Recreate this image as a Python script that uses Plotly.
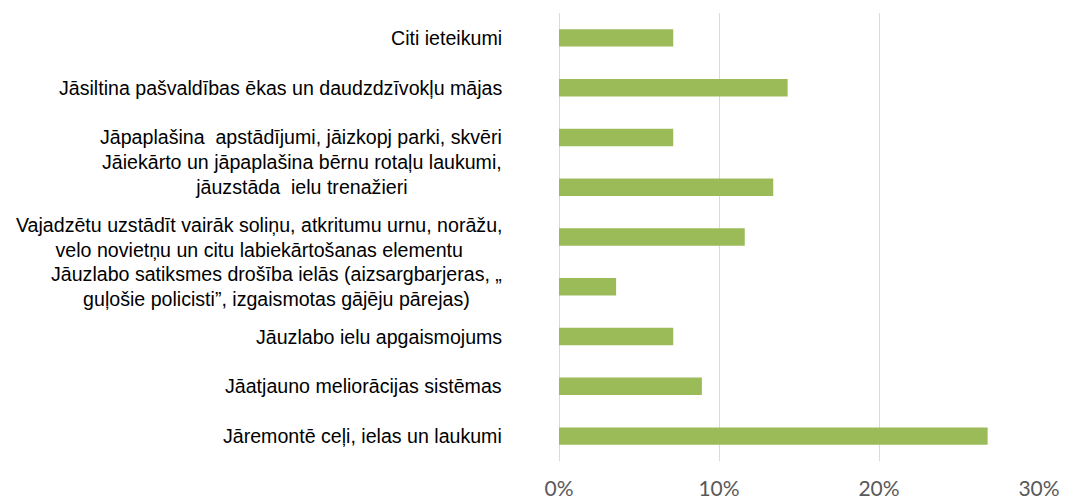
import plotly.graph_objects as go

categories = [
    "Jāremontē ceļi, ielas un laukumi",
    "Jāatjauno meliorācijas sistēmas",
    "Jāuzlabo ielu apgaismojums",
    "Jāuzlabo satiksmes drošība ielās (aizsargbarjeras, „<br>guļošie policisti”, izgaismotas gājēju pārejas)",
    "Vajadzētu uzstādīt vairāk soliņu, atkritumu urnu, norāžu,<br>velo novietņu un citu labiekārtošanas elementu",
    "Jāiekārto un jāpaplašina bērnu rotaļu laukumi,<br>jāuzstāda  ielu trenažieri<br> ",
    "Jāpaplašina  apstādījumi, jāizkopj parki, skvēri",
    "Jāsiltina pašvaldības ēkas un daudzdzīvokļu mājas",
    "Citi ieteikumi",
]
values = [26.79, 8.93, 7.14, 3.57, 11.61, 13.39, 7.14, 14.29, 7.14]
tick_vals = [0, 10, 20, 30]
tick_text = ["0%", "10%", "20%", "30%"]

cat_ids = list(range(len(categories)))

fig = go.Figure(go.Bar(
    x=values,
    y=cat_ids,
    orientation="h",
    marker=dict(color="#9BBB59", line=dict(width=0)),
    width=0.35,
    hoverinfo="x",
))

for i, lab in zip(cat_ids, categories):
    fig.add_annotation(
        x=0, xref="x", y=i, yref="y",
        text=lab, showarrow=False,
        xanchor="right", yanchor="middle", align="center",
        xshift=-55,
        font=dict(family="Liberation Sans, Arial, sans-serif", size=19.6, color="#000000"),
    )

fig.update_layout(
    width=1069, height=494,
    margin=dict(l=551, r=38, t=5, b=41),
    paper_bgcolor="white", plot_bgcolor="white",
    showlegend=False,
    bargap=0.65,
)
fig.update_xaxes(
    range=[0, 30], tickvals=tick_vals, ticktext=tick_text,
    showgrid=True, gridcolor="#d9d9d9", gridwidth=1,
    zeroline=True, zerolinecolor="#d9d9d9", zerolinewidth=1,
    showline=False, ticks="", ticklabelstandoff=13,
    tickfont=dict(family="Lato, Open Sans, sans-serif", size=21, color="#595959"),
    automargin=False, fixedrange=True,
)
fig.update_yaxes(
    range=[-0.5, len(categories) - 0.5],
    showticklabels=False, showgrid=False, zeroline=False, showline=False,
    automargin=False, fixedrange=True,
)
fig.write_html("out.html")
